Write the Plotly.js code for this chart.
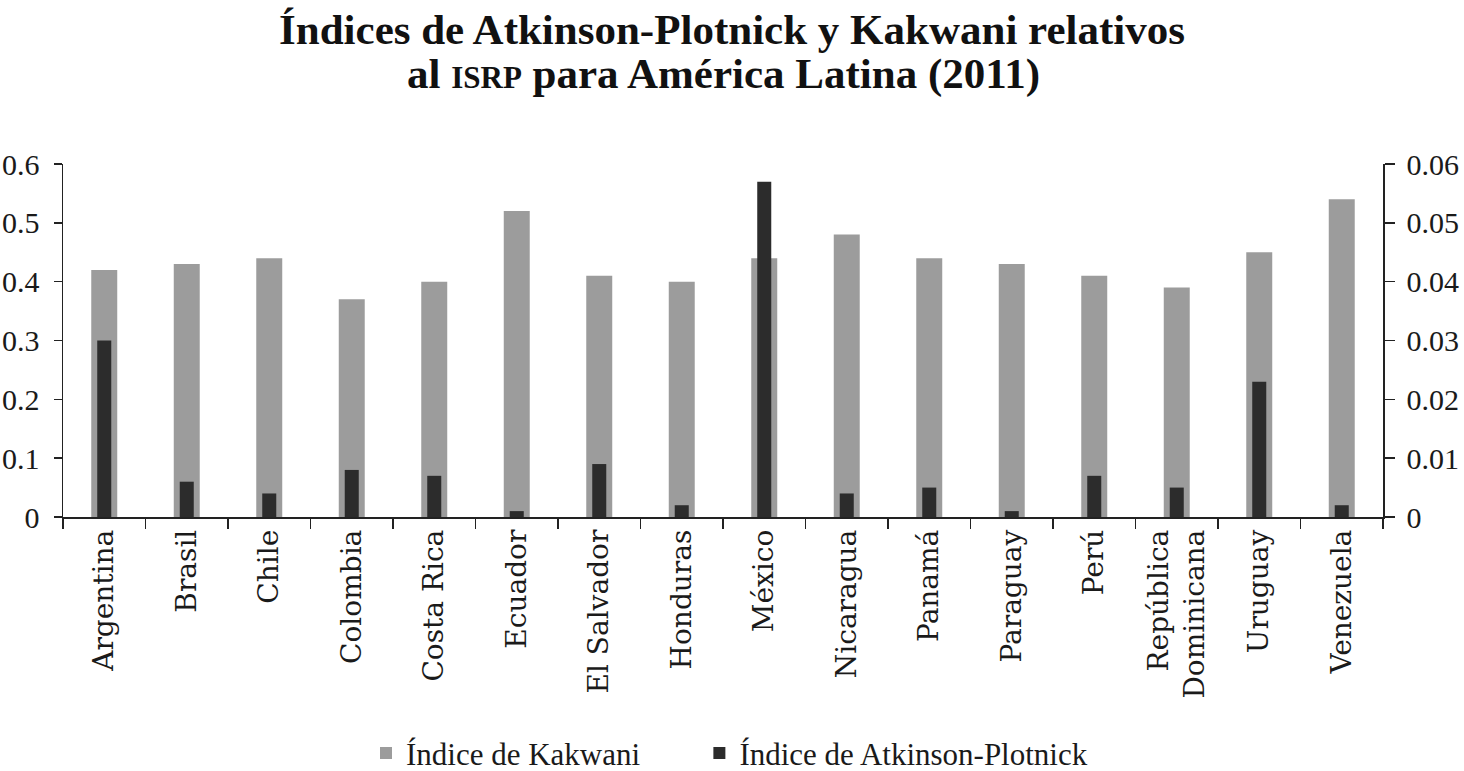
<!DOCTYPE html>
<html>
<head>
<meta charset="utf-8">
<script src="https://cdn.plot.ly/plotly-3.0.1.min.js"></script>
<style>html,body{margin:0;padding:0;background:#fff;}#chart{width:1464px;height:771px;}</style>
</head>
<body>
<div id="chart"></div>
<script>
const countries = ["Argentina","Brasil","Chile","Colombia","Costa Rica","Ecuador","El Salvador","Honduras","México","Nicaragua","Panamá","Paraguay","Perú","República<br>Dominicana","Uruguay","Venezuela"];
const kakwani = [0.42,0.43,0.44,0.37,0.40,0.52,0.41,0.40,0.44,0.48,0.44,0.43,0.41,0.39,0.45,0.54];
const atkinsonPlotnick = [0.030,0.006,0.004,0.008,0.007,0.001,0.009,0.002,0.057,0.004,0.005,0.001,0.007,0.005,0.023,0.002];
const leftTicks = [0,0.1,0.2,0.3,0.4,0.5,0.6];
const rightTicks = [0,0.01,0.02,0.03,0.04,0.05,0.06];
const seriesNames = ["Índice de Kakwani", "Índice de Atkinson-Plotnick"];
const titleLine1 = "Índices de Atkinson-Plotnick y Kakwani relativos";
const titleLine2 = "al <span style='font-size:31px'>ISRP</span> para América Latina (2011)";

const FONT = "'Liberation Serif', 'Times New Roman', serif";
const CATFONT = "'DejaVu Serif', serif";
const GAP = "\u00a0\u00a0\u00a0\u00a0\u00a0\u00a0\u00a0";

const traces = [
  {type:"bar", name:seriesNames[0] + GAP, x:countries, y:kakwani, yaxis:"y",
   width:0.315, marker:{color:"#9c9c9c", line:{width:0}}, hoverinfo:"x+y"},
  {type:"bar", name:seriesNames[1], x:countries, y:atkinsonPlotnick, yaxis:"y2",
   width:0.17, marker:{color:"#2c2c2c", line:{width:0}}, hoverinfo:"x+y"}
];

const layout = {
  width:1464, height:771,
  paper_bgcolor:"#fff", plot_bgcolor:"#fff",
  font:{family:FONT, color:"#1a1a1a", size:30},
  margin:{l:63, r:81, t:164, b:254, pad:0},
  title:{text:"<b>"+titleLine1+"</b>", font:{family:FONT, size:43, color:"#111"},
         x:0.5, xanchor:"center", yref:"container", y:0.982, yanchor:"top"},
  annotations:[{text:"<b>"+titleLine2+"</b>", font:{family:FONT, size:43, color:"#111"},
                xref:"paper", yref:"paper", x:0.5, y:(517-100)/353, xanchor:"center", yanchor:"bottom",
                showarrow:false}],
  barmode:"overlay",
  showlegend:true,
  legend:{orientation:"h", x:(366-63)/1320, xanchor:"left", yref:"container", y:0.058, yanchor:"top",
          font:{family:FONT, size:31, color:"#1a1a1a"}, traceorder:"normal", itemwidth:30,
          bgcolor:"rgba(0,0,0,0)"},
  xaxis:{type:"category", tickson:"boundaries", ticks:"outside", ticklen:10, tickwidth:1.5, tickcolor:"#222",
         showline:true, linecolor:"#222", linewidth:1.5, tickangle:-90, showgrid:false, zeroline:false,
         tickfont:{family:CATFONT, size:28, color:"#1a1a1a"}, automargin:false},
  yaxis:{range:[0,0.6], tickvals:leftTicks, ticktext:leftTicks.map(String), ticks:"outside", ticklen:8, tickwidth:1.5,
         tickcolor:"#222", showline:true, linecolor:"#222", linewidth:1.5, showgrid:false, zeroline:false,
         tickfont:{family:FONT, size:30, color:"#1a1a1a"}, ticklabelstandoff:8, automargin:false},
  yaxis2:{range:[0,0.06], overlaying:"y", side:"right", tickvals:rightTicks, ticktext:rightTicks.map(String),
          ticks:"outside", ticklen:10, tickwidth:1.5, tickcolor:"#222", showline:true, linecolor:"#222", linewidth:1.5,
          showgrid:false, zeroline:false, tickfont:{family:FONT, size:30, color:"#1a1a1a"}, ticklabelstandoff:6, automargin:false}
};

Plotly.newPlot("chart", traces, layout, {displayModeBar:false, staticPlot:true});
</script>
</body>
</html>
